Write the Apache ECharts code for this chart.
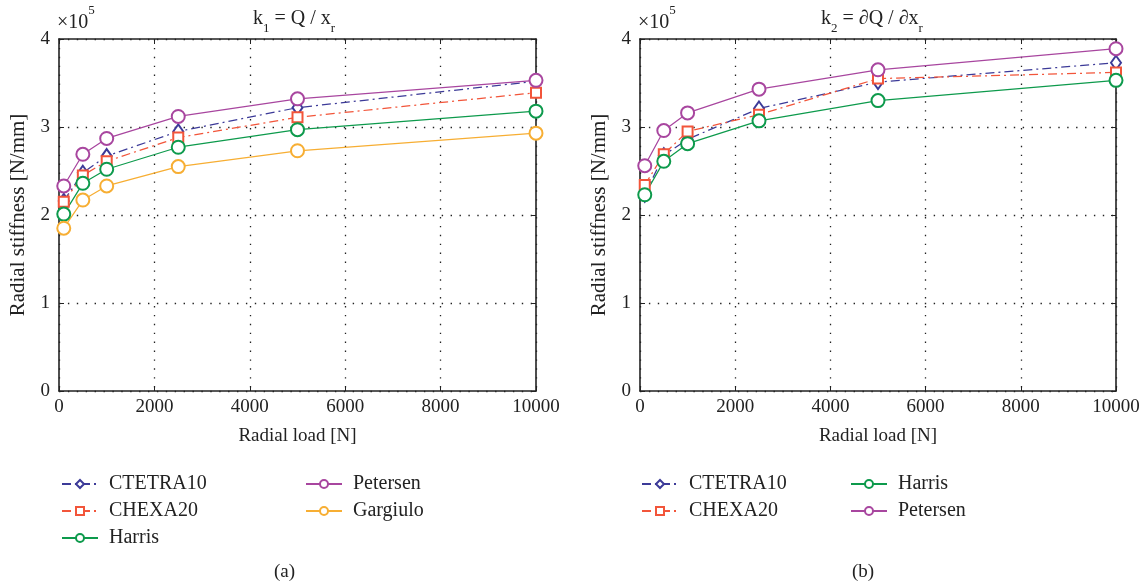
<!DOCTYPE html>
<html><head><meta charset="utf-8">
<script src="https://cdn.jsdelivr.net/npm/echarts@6/dist/echarts.min.js"></script>
<style>html,body{margin:0;padding:0;background:#fff}#c{width:1146px;height:588px}</style>
</head><body><div id="c"></div>
<script>
// Data (stiffness in ×10^5 N/mm)
const loads = [100, 500, 1000, 2500, 5000, 10000];
const xTicks = [0, 2000, 4000, 6000, 8000, 10000];
const yTicks = [0, 1, 2, 3, 4];
// (a) k1 = Q / xr
const aCTETRA10 = [2.16, 2.48, 2.67, 2.95, 3.22, 3.52];
const aCHEXA20  = [2.15, 2.45, 2.61, 2.88, 3.11, 3.39];
const aHarris   = [2.01, 2.36, 2.52, 2.77, 2.97, 3.18];
const aPetersen = [2.33, 2.69, 2.87, 3.12, 3.32, 3.53];
const aGargiulo = [1.85, 2.17, 2.33, 2.55, 2.73, 2.93];
// (b) k2 = dQ / dxr
const bCTETRA10 = [2.23, 2.68, 2.86, 3.21, 3.51, 3.73];
const bCHEXA20  = [2.34, 2.69, 2.95, 3.14, 3.55, 3.62];
const bHarris   = [2.23, 2.61, 2.81, 3.07, 3.30, 3.53];
const bPetersen = [2.56, 2.96, 3.16, 3.43, 3.65, 3.89];

const C = {CTETRA10:'#3c3a98', CHEXA20:'#f2553a', Harris:'#0d9a4c', Petersen:'#a8469f', Gargiulo:'#f7ae33'};
const SYM = {CTETRA10:'emptyDiamond', CHEXA20:'emptyRect', Harris:'emptyCircle', Petersen:'emptyCircle', Gargiulo:'emptyCircle'};
const SZ = {CTETRA10:[10,14], CHEXA20:10, Harris:13, Petersen:13, Gargiulo:13};
const DASH = {CTETRA10:[9,4,2,4], CHEXA20:[9,4,2,4]};
const FONT = '"Liberation Serif", "DejaVu Serif", serif';
const INK = '#222';

function pairs(vals){ return loads.map((x,i)=>[x, vals[i]]); }
function ser(name, vals, gi){
  return {name, type:'line', xAxisIndex:gi*2, yAxisIndex:gi*2, data:pairs(vals),
    symbol:SYM[name], symbolSize:SZ[name], color:C[name],
    lineStyle:{width:1.25, type: DASH[name] || 'solid', color:C[name]},
    itemStyle:{color:C[name], borderWidth:0.9}, emphasis:{disabled:true}, z:3};
}
const grids = [
  {left:59, top:39, width:477, height:352},
  {left:640, top:39, width:476, height:352}
];
const xAxes = [], yAxes = [];
const dotted = {color:INK, type:[1.4,7.5], width:1.3};
grids.forEach((g,i)=>{
  xAxes.push({type:'value', gridIndex:i, min:xTicks[0], max:xTicks[xTicks.length-1], interval:xTicks[1]-xTicks[0],
    name:'Radial load [N]', nameLocation:'middle', nameGap:36,
    nameTextStyle:{fontFamily:FONT, fontSize:19, color:INK},
    axisLine:{onZero:false, lineStyle:{color:INK, width:1.6}},
    axisTick:{inside:true, length:5, lineStyle:{color:INK}},
    axisLabel:{fontFamily:FONT, fontSize:19, color:INK, margin:7, formatter:v=>String(v)},
    splitLine:{show:true, lineStyle:dotted}});
  xAxes.push({type:'value', gridIndex:i, min:xTicks[0], max:xTicks[xTicks.length-1], interval:xTicks[1]-xTicks[0], position:'top',
    axisLine:{show:true, onZero:false, lineStyle:{color:INK, width:1.6}},
    axisTick:{inside:true, length:5, lineStyle:{color:INK}},
    axisLabel:{show:false}, splitLine:{show:false}});
  yAxes.push({type:'value', gridIndex:i, min:yTicks[0], max:yTicks[yTicks.length-1], interval:1,
    name:'Radial stiffness [N/mm]', nameLocation:'middle', nameGap:30,
    nameTextStyle:{fontFamily:FONT, fontSize:21, color:INK},
    axisLine:{show:true, onZero:false, lineStyle:{color:INK, width:1.6}},
    axisTick:{inside:true, length:5, lineStyle:{color:INK}},
    axisLabel:{fontFamily:FONT, fontSize:19, color:INK, margin:9},
    splitLine:{show:true, lineStyle:dotted}});
  yAxes.push({type:'value', gridIndex:i, min:yTicks[0], max:yTicks[yTicks.length-1], interval:1, position:'right',
    axisLine:{show:true, onZero:false, lineStyle:{color:INK, width:1.6}},
    axisTick:{inside:true, length:5, lineStyle:{color:INK}},
    axisLabel:{show:false}, splitLine:{show:false}});
});
const series = [
  ser('CTETRA10', aCTETRA10, 0), ser('CHEXA20', aCHEXA20, 0), ser('Harris', aHarris, 0),
  ser('Petersen', aPetersen, 0), ser('Gargiulo', aGargiulo, 0),
  ser('CTETRA10', bCTETRA10, 1), ser('CHEXA20', bCHEXA20, 1), ser('Harris', bHarris, 1),
  ser('Petersen', bPetersen, 1)
];
function leg(left, top, names){
  return {left, top, orient:'vertical', itemGap:7, itemWidth:36, itemHeight:10, selectedMode:false,
    data:names, textStyle:{fontFamily:FONT, fontSize:20, color:INK, padding:[0,0,0,6]}};
}
const sub = {fontFamily:FONT, fontSize:13, color:INK, verticalAlign:'bottom', padding:[0,0,-6,0]};
const sup = {fontFamily:FONT, fontSize:13, color:INK, verticalAlign:'top', padding:[-9,0,0,0]};
const option = {
  animation:false, backgroundColor:'#fff',
  grid: grids, xAxis: xAxes, yAxis: yAxes, series,
  legend: [
    leg(56, 469, ['CTETRA10','CHEXA20','Harris']),
    leg(300, 469, ['Petersen','Gargiulo']),
    leg(636, 469, ['CTETRA10','CHEXA20']),
    leg(845, 469, ['Harris','Petersen'])
  ],
  graphic: [
    {type:'text', left:253, top:9, style:{text:'k{s|1} = Q / x{s|r}', font:'20px '+FONT, fill:INK, rich:{s:sub}}},
    {type:'text', left:821, top:9, style:{text:'k{s|2} = ∂Q / ∂x{s|r}', font:'20px '+FONT, fill:INK, rich:{s:sub}}},
    {type:'text', left:57, top:4, style:{text:'×10{p|5}', font:'20px '+FONT, fill:INK, rich:{p:sup}}},
    {type:'text', left:638, top:4, style:{text:'×10{p|5}', font:'20px '+FONT, fill:INK, rich:{p:sup}}},
    {type:'text', left:274, top:563, style:{text:'(a)', font:'19px '+FONT, fill:INK}},
    {type:'text', left:852, top:563, style:{text:'(b)', font:'19px '+FONT, fill:INK}}
  ]
};
echarts.init(document.getElementById('c'), null, {renderer:'canvas'}).setOption(option);
</script></body></html>
